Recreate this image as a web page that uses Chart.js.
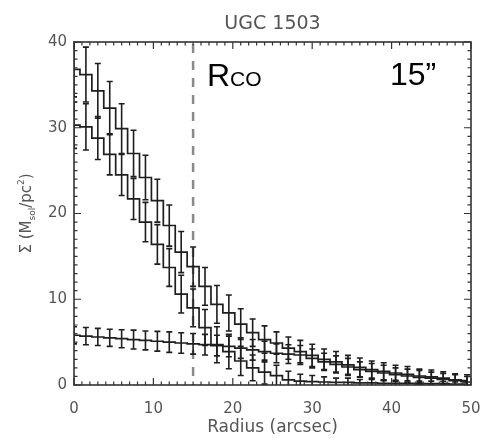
<!DOCTYPE html>
<html>
<head>
<meta charset="utf-8">
<script src="https://cdn.jsdelivr.net/npm/chart.js@4.4.0/dist/chart.umd.min.js"></script>
<style>
  html, body { margin:0; padding:0; background:#fff; }
  #caja { width:484px; height:438px; }
</style>
</head>
<body>
<div id="caja"><canvas id="grafico" width="484" height="438"></canvas></div>
<script>
// radio en arcsec
const radio = [0, 1.5, 3, 4.5, 6, 7.5, 9, 10.5, 12, 13.5, 15, 16.5, 18, 19.5, 21, 22.5, 24,
  25.5, 27, 28.5, 30, 31.5, 33, 34.5, 36, 37.5, 39, 40.5, 42, 43.5, 45, 46.5, 48, 49.5]

// gas total (HI + H2)
const sigmaTotal = [36.8, 36.2, 34.3, 32.3, 29.9, 27.0, 24.2, 21.5, 18.6, 15.5, 13.8, 11.5, 9.4, 8.4,
  7.1, 6.1, 5.3, 4.9, 4.3, 3.9, 3.45, 3.0, 2.7, 2.35, 2.05, 1.8, 1.6, 1.4, 1.25, 1.05, 0.95, 0.8, 0.6, 0.5]
const errTotal = [3.2, 3.2, 3.2, 3.1, 2.9, 2.7, 2.6, 2.5, 2.4, 2.4, 2.3, 2.2, 2.2, 2.1, 1.8, 1.6, 1.6,
  1.3, 1.3, 1.3, 1.3, 1.2, 1.2, 1.1, 1.1, 1.0, 1.0, 0.9, 0.9, 0.8, 0.8, 0.75, 0.7, 0.7]

// H2
const sigmaH2 = [30.3, 30.1, 28.8, 26.9, 24.5, 21.7, 19.0, 16.4, 13.7, 10.6, 9.0, 6.7, 4.7, 3.9,
  2.8, 2.0, 1.5, 1.1, 0.6, 0.45, 0.4, 0.35, 0.3, 0.3, 0.25, 0.25, 0.2, 0.2, 0.2, 0.15, 0.15, 0.15, 0.1, 0.1]
const errH2 = [2.7, 2.7, 2.5, 2.4, 2.4, 2.4, 2.3, 2.3, 2.2, 2.2, 2.2, 2.1, 2.1, 2.0, 1.7, 1.5, 1.4,
  1.2, 1.0, 0.8, 0.7, 0.6, 0.5, 0.5, 0.4, 0.4, 0.35, 0.35, 0.3, 0.3, 0.3, 0.25, 0.25, 0.25]

// HI
const sigmaHI = [5.8, 5.7, 5.6, 5.5, 5.4, 5.3, 5.2, 5.1, 5.0, 4.9, 4.8, 4.7, 4.6, 4.5, 4.3, 4.1, 3.9,
  3.7, 3.6, 3.5, 3.1, 2.7, 2.4, 2.1, 1.8, 1.6, 1.4, 1.2, 1.05, 0.9, 0.8, 0.65, 0.5, 0.4]
const errHI = [1.0, 1.0, 1.0, 1.0, 1.05, 1.1, 1.1, 1.15, 1.2, 1.2, 1.2, 1.2, 1.2, 1.2, 1.2, 1.2, 1.2,
  1.1, 1.1, 1.1, 1.1, 1.0, 1.0, 1.0, 0.9, 0.9, 0.9, 0.8, 0.8, 0.8, 0.7, 0.7, 0.7, 0.6]

const ticksX = [0, 10, 20, 30, 40, 50]
const ticksY = [0, 10, 20, 30, 40]
const rCO = 15

const gris = '#555'
const tinta = '#1e1e1e'

const series = [
  { valores: sigmaTotal, errores: errTotal },
  { valores: sigmaH2, errores: errH2 },
  { valores: sigmaHI, errores: errHI }
]

function puntos(valores){
  return radio.map((r, i) => ({ x: r, y: valores[i] }))
}

const estiloIDL = {
  id: 'estiloIDL',
  beforeDatasetsDraw(chart){
    const ctx = chart.ctx, a = chart.chartArea
    const x = chart.scales.x.getPixelForValue(rCO)
    ctx.save()
    ctx.strokeStyle = '#8a8a8a'
    ctx.lineWidth = 2.5
    ctx.setLineDash([9, 8])
    ctx.beginPath()
    ctx.moveTo(x, a.top + 2)
    ctx.lineTo(x, a.bottom)
    ctx.stroke()
    ctx.restore()
  },
  afterDatasetsDraw(chart){
    // barras de error
    const ctx = chart.ctx, a = chart.chartArea
    const sx = chart.scales.x, sy = chart.scales.y
    ctx.save()
    ctx.beginPath()
    ctx.rect(a.left, a.top, a.right - a.left, a.bottom - a.top)
    ctx.clip()
    ctx.strokeStyle = tinta
    ctx.lineWidth = 1.6
    series.forEach(s => {
      radio.forEach((r, i) => {
        const x = sx.getPixelForValue(r)
        const y1 = sy.getPixelForValue(s.valores[i] + s.errores[i])
        const y2 = sy.getPixelForValue(s.valores[i] - s.errores[i])
        ctx.beginPath()
        ctx.moveTo(x, y1); ctx.lineTo(x, y2)
        ctx.moveTo(x - 3, y1); ctx.lineTo(x + 3, y1)
        ctx.moveTo(x - 3, y2); ctx.lineTo(x + 3, y2)
        ctx.stroke()
      })
    })
    ctx.restore()
  },
  afterDraw(chart){
    const ctx = chart.ctx, a = chart.chartArea
    const sx = chart.scales.x, sy = chart.scales.y
    ctx.save()
    // marco
    ctx.strokeStyle = '#333'
    ctx.lineWidth = 1.6
    ctx.strokeRect(a.left, a.top, a.right - a.left, a.bottom - a.top)
    // ticks hacia dentro en los cuatro lados
    ctx.lineWidth = 1.2
    ctx.beginPath()
    for (let v = sx.min; v <= sx.max; v += 1) {
      const x = sx.getPixelForValue(v)
      const l = ticksX.includes(v) ? 7 : 3.5
      ctx.moveTo(x, a.bottom); ctx.lineTo(x, a.bottom - l)
      ctx.moveTo(x, a.top); ctx.lineTo(x, a.top + l)
    }
    for (let v = sy.min; v <= sy.max; v += 1) {
      const y = sy.getPixelForValue(v)
      const l = ticksY.includes(v) ? 7 : 3.5
      ctx.moveTo(a.left, y); ctx.lineTo(a.left + l, y)
      ctx.moveTo(a.right, y); ctx.lineTo(a.right - l, y)
    }
    ctx.stroke()

    // titulo
    ctx.fillStyle = gris
    ctx.font = '19px "DejaVu Sans"'
    ctx.textAlign = 'center'
    ctx.textBaseline = 'alphabetic'
    ctx.fillText('UGC 1503', (a.left + a.right) / 2, 29)

    // titulo eje y con subindice y superindice
    const partes = [
      { t: 'Σ (M', f: '15px "DejaVu Sans"', dy: 0 },
      { t: 'sol', f: '9px "DejaVu Sans"', dy: 4 },
      { t: '/pc', f: '15px "DejaVu Sans"', dy: 0 },
      { t: '2', f: '9px "DejaVu Sans"', dy: -7 },
      { t: ')', f: '15px "DejaVu Sans"', dy: 0 }
    ]
    let total = 0
    partes.forEach(p => { ctx.font = p.f; p.w = ctx.measureText(p.t).width; total += p.w })
    ctx.translate(25, (a.top + a.bottom) / 2)
    ctx.rotate(-Math.PI / 2)
    ctx.textAlign = 'left'
    let px = -total / 2
    partes.forEach(p => {
      ctx.font = p.f
      ctx.fillText(p.t, px, 5.5 + p.dy)
      px += p.w
    })
    ctx.setTransform(1, 0, 0, 1, 0, 0)

    // anotaciones
    ctx.fillStyle = '#000'
    ctx.textAlign = 'left'
    ctx.font = '32px "Liberation Sans"'
    ctx.fillText('R', 207, 86)
    const wR = ctx.measureText('R').width
    ctx.font = '21px "Liberation Sans"'
    ctx.fillText('CO', 207 + wR, 86)
    ctx.font = '32px "Liberation Sans"'
    ctx.fillText('15\u201D', 390, 85)
    ctx.restore()
  }
}

const datos = {
  datasets: series.map(s => ({
    data: puntos(s.valores),
    borderColor: tinta,
    borderWidth: 1.7,
    stepped: 'middle',
    pointRadius: 0,
    fill: false
  }))
}

const config = {
  type: 'line',
  data: datos,
  options: {
    responsive: false,
    animation: false,
    devicePixelRatio: 1,
    layout: { padding: { left: 0, right: 13, top: 42, bottom: 0 } },
    plugins: { legend: { display: false }, tooltip: { enabled: false }, title: { display: false } },
    scales: {
      x: {
        type: 'linear', min: 0, max: 50,
        grid: { display: false, drawTicks: false },
        border: { display: false },
        afterBuildTicks: s => { s.ticks = ticksX.map(v => ({ value: v })) },
        afterFit: s => { s.height = 53; s.paddingLeft = 0; s.paddingRight = 0 },
        ticks: { color: gris, font: { family: 'DejaVu Sans', size: 15 }, padding: 15, maxRotation: 0 },
        title: { display: true, text: 'Radius (arcsec)', color: gris,
                 font: { family: 'DejaVu Sans', size: 17 }, padding: { top: 0, bottom: 0 } }
      },
      y: {
        min: 0, max: 40,
        grid: { display: false, drawTicks: false },
        border: { display: false },
        afterBuildTicks: s => { s.ticks = ticksY.map(v => ({ value: v })) },
        afterFit: s => { s.width = 74; s.paddingTop = 0; s.paddingBottom = 0 },
        ticks: { color: gris, font: { family: 'DejaVu Sans', size: 15 }, padding: 7 }
      }
    }
  },
  plugins: [estiloIDL]
}

const myChart = new Chart(document.getElementById('grafico'), config)
</script>
</body>
</html>
